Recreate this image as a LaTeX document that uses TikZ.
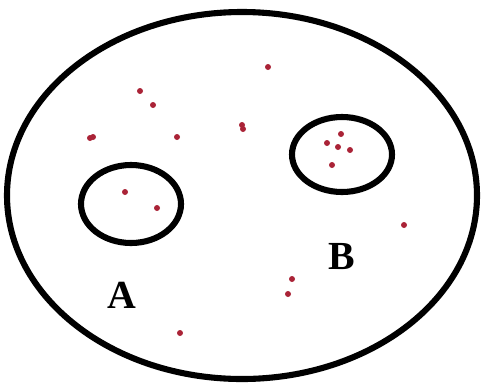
\documentclass[tikz,border=0pt]{standalone}
\usepackage{fontspec}
\setmainfont{Liberation Serif}
\definecolor{dotred}{RGB}{170,35,55}
\tikzset{setline/.style={line width=5.2pt}, pt/.style={fill=dotred}}
\begin{document}
\begin{tikzpicture}[x=0.03cm,y=-0.03cm]
 \useasboundingbox (0,0) rectangle (482,385);
 \draw[setline] (242,195.5) ellipse (235 and 183.5);
 \draw[setline] (131,204) ellipse (50 and 39);
 \draw[setline] (342,154.5) ellipse (50 and 37.5);
 \foreach \p in {(140,91),(153,105),(90,138),(93,137),(177,137),(268,67),(242,125),(243,129),(125,192),(157,208)} \fill[pt] \p circle (3);
 \foreach \p in {(341,134),(327,143),(338,147),(350,150),(332,165)} \fill[pt] \p circle (3);
 \foreach \p in {(404,225),(292,279),(288,294),(180,333)} \fill[pt] \p circle (3);
 \node[font=\fontsize{34}{34}\selectfont\bfseries] (labA) at (122,295) {A};
 \node[font=\fontsize{34}{34}\selectfont\bfseries] (labB) at (342,257) {B};
\end{tikzpicture}
\end{document}
